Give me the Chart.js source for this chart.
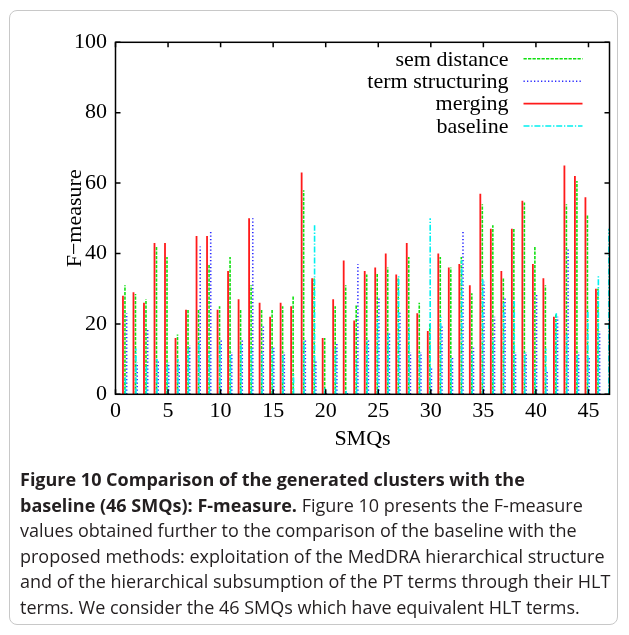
<!DOCTYPE html>
<html>
<head>
<meta charset="utf-8">
<script src="https://cdn.jsdelivr.net/npm/chart.js@4.4.1/dist/chart.umd.min.js"></script>
<style>
    html, body { margin: 0; padding: 0; background: #fff; }
    body { width: 629px; height: 635px; position: relative; overflow: hidden; }
    #card { position: absolute; left: 9px; top: 10px; width: 609px; height: 615px; border: 1px solid #c8c8c8; border-radius: 8px; box-sizing: border-box; }
    #plot { position: absolute; left: 0; top: 0; width: 629px; height: 470px; }
    #caption { position: absolute; left: 20px; top: 467px; font-family: 'Open Sans', sans-serif; font-size: 18px; line-height: 25.5px; color: #231f20; white-space: nowrap; }
    #caption b { font-weight: 700; }
</style>
</head>
<body>
<div id="card"></div>
<div id="plot"><canvas id="smqChart"></canvas></div>
<div id="caption"><b>Figure 10 Comparison of the generated clusters with the<br>baseline (46 SMQs): F-measure.</b> Figure 10 presents the F-measure<br>values obtained further to the comparison of the baseline with the<br>proposed methods: exploitation of the MedDRA hierarchical structure<br>and of the hierarchical subsumption of the PT terms through their HLT<br>terms. We consider the 46 SMQs which have equivalent HLT terms.</div>

<script>
// SMQ index (the 47th only carries a baseline value, cut by the right border)
const smqs = [1, 2, 3, 4, 5, 6, 7, 8, 9, 10, 11, 12, 13, 14, 15, 16, 17, 18, 19, 20, 21, 22, 23,
    24, 25, 26, 27, 28, 29, 30, 31, 32, 33, 34, 35, 36, 37, 38, 39, 40, 41, 42, 43, 44, 45, 46, 47];

const semDistance = [31, 28.5, 27, 42, 39, 17, 24, 24, 37, 25, 39, 24, 31, 24, 24, 25, 28, 58, 33, 16, 25, 31, 25.5,
    34, 34.5, 36, 33, 39, 26, 20, 39, 36, 39, 28.7, 54, 48, 33, 47, 54.5, 42, 31, 23, 54, 60.6, 51, 30, null];
const termStructuring = [23, 9, 18.5, 9.5, 9, 9, 14, 42, 46.5, 15.7, 12, 15.7, 50, 19.7, 13.2, 12, 0, 15.7, 9.7, 1, 14.7, 0.5, 37,
    15.7, 27.7, 17.3, 23.2, 12, 12, 8, 19.7, 10.7, 46.5, 13.2, 32, 22, 27.3, 12, 12, 28.4, 7, 22, 41.2, 12, 10.7, 18, null];
const merging = [28, 29, 26, 43, 43, 16, 24, 45, 45, 24, 35, 27, 50, 26, 22, 26, 25, 63, 33, 16, 27, 38, 21,
    35, 36, 40, 34, 43, 23, 18, 40, 36, 37, 31, 57, 47, 35, 47, 55, 37, 33, 22, 65, 62, 56, 30, null];
const baseline = [5, 13, 8, 10, 9, 10, 13, 15, 12, 14, 11, 14, 13, 12, 13, 11, 6, 15, 48, 2, 13, 1, 10,
    15, 22, 17, 34, 19, 12, 50, 22, 10, 38, 12, 33, 16, 26, 27, 12, 7, 13, 23, 17, 11, 24, 34, 47];

const xTicks = [0, 5, 10, 15, 20, 25, 30, 35, 40, 45];
const yTicks = [0, 20, 40, 60, 80, 100];

// gnuplot "with impulses": a vertical segment per SMQ, broken by a null point
function impulses(values, shift) {
    const pts = [];
    smqs.forEach((s, i) => {
        if (values[i] === null) return;
        pts.push({ x: s + shift, y: 0 }, { x: s + shift, y: values[i] }, { x: s + shift, y: null });
    });
    return pts;
}

const serif = { family: "'Liberation Serif', 'Times New Roman', serif", size: 22 };

// frame with inward ticks on all four sides + gnuplot style key
const gnuFrame = {
    id: 'gnuFrame',
    afterDatasetsDraw(chart) {
        const { ctx, chartArea: a, scales: { x, y } } = chart;
        ctx.save();
        ctx.strokeStyle = '#000';
        ctx.lineWidth = 1.5;
        ctx.setLineDash([]);
        ctx.beginPath();
        xTicks.forEach(v => {
            const px = x.getPixelForValue(v);
            ctx.moveTo(px, a.bottom); ctx.lineTo(px, a.bottom - 5);
            ctx.moveTo(px, a.top); ctx.lineTo(px, a.top + 5);
        });
        yTicks.forEach(v => {
            const py = y.getPixelForValue(v);
            ctx.moveTo(a.left, py); ctx.lineTo(a.left + 5, py);
            ctx.moveTo(a.right, py); ctx.lineTo(a.right - 5, py);
        });
        ctx.stroke();
        ctx.strokeRect(a.left, a.top, a.right - a.left, a.bottom - a.top);

        // key
        ctx.font = `${serif.size}px ${serif.family}`;
        ctx.fillStyle = '#000';
        ctx.textAlign = 'right';
        ctx.textBaseline = 'middle';
        chart.data.datasets.forEach((ds, i) => {
            const ky = a.top + 16.5 + i * 22.4;
            ctx.fillText(ds.label, a.right - 101, ky + 1);
            ctx.strokeStyle = ds.borderColor;
            ctx.lineWidth = ds.borderWidth;
            ctx.setLineDash(ds.borderDash || []);
            ctx.beginPath();
            ctx.moveTo(a.right - 86, ky);
            ctx.lineTo(a.right - 27, ky);
            ctx.stroke();
        });
        ctx.restore();
    }
};

new Chart(document.getElementById('smqChart'), {
    type: 'scatter',
    data: {
        datasets: [
            { label: 'sem distance', data: impulses(semDistance, -0.10), borderColor: '#10e010', borderWidth: 1.6, borderDash: [3.3, 1.2], order: 3 },
            { label: 'term structuring', data: impulses(termStructuring, 0.06), borderColor: '#2a2aff', borderWidth: 1.6, borderDash: [1.3, 2.2], order: 2 },
            { label: 'merging', data: impulses(merging, -0.29), borderColor: '#ff1a1a', borderWidth: 1.8, borderDash: [], order: 1 },
            { label: 'baseline', data: impulses(baseline, -0.06), borderColor: '#00f0f0', borderWidth: 1.6, borderDash: [6, 1.8, 1.3, 1.8], order: 0 }
        ].map(ds => Object.assign(ds, { showLine: true, spanGaps: false, pointRadius: 0, pointHoverRadius: 0, fill: false }))
    },
    options: {
        responsive: true,
        maintainAspectRatio: false,
        animation: false,
        devicePixelRatio: 1,
        layout: { padding: { left: 62, top: 42.3, right: 19.5, bottom: 17.7 } },
        plugins: { legend: { display: false }, tooltip: { enabled: false } },
        scales: {
            x: {
                type: 'linear', min: 0, max: 47,
                grid: { display: false, drawTicks: false }, border: { display: false },
                ticks: { stepSize: 5, includeBounds: false, font: serif, color: '#000', padding: 4, maxRotation: 0 },
                title: { display: true, text: 'SMQs', font: serif, color: '#000', padding: 0 },
                afterFit: s => { s.height = 58; }
            },
            y: {
                min: 0, max: 100,
                grid: { display: false, drawTicks: false }, border: { display: false },
                ticks: { stepSize: 20, font: serif, color: '#000', padding: 8.5 },
                title: { display: true, text: 'F−measure', font: serif, color: '#000', padding: 0 },
                afterFit: s => { s.width = 53.5; }
            }
        }
    },
    plugins: [gnuFrame]
});
</script>
</body>
</html>
